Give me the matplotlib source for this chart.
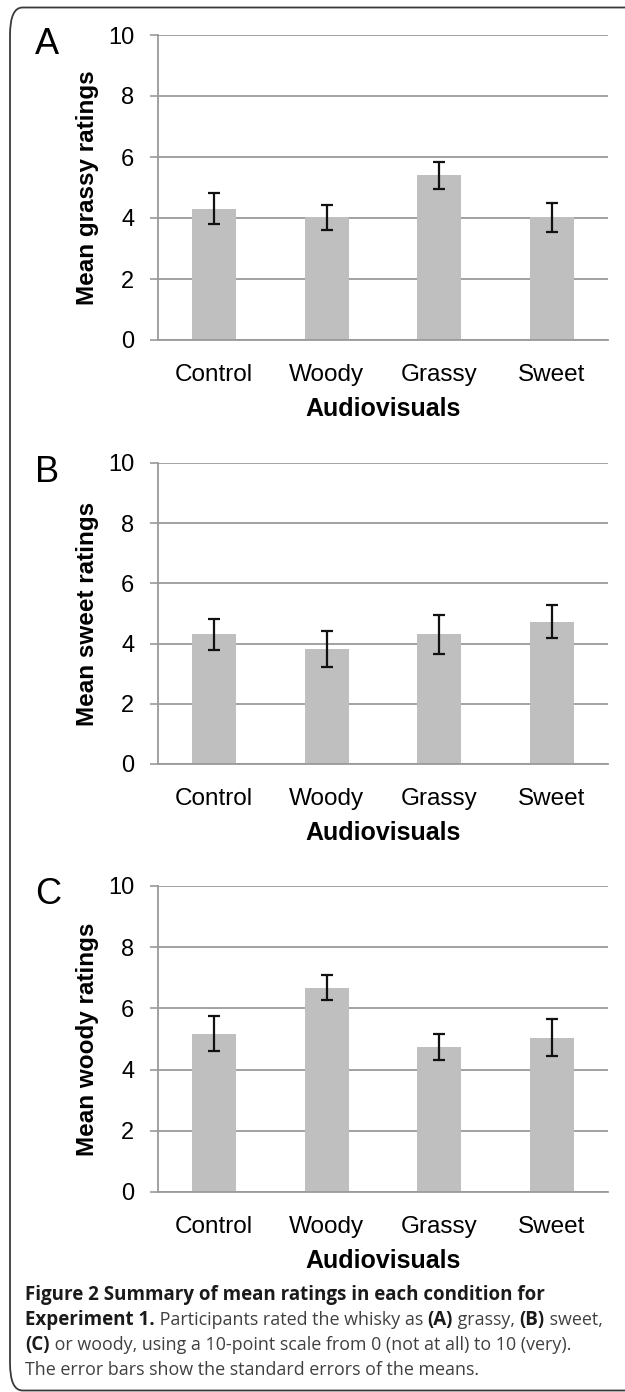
import matplotlib
matplotlib.use("Agg")
import matplotlib.pyplot as plt
from matplotlib.patches import FancyBboxPatch

# data
categories = ["Control", "Woody", "Grassy", "Sweet"]
grassy_means = [4.31, 4.02, 5.40, 4.02]
grassy_se = [0.50, 0.41, 0.45, 0.47]
sweet_means = [4.31, 3.82, 4.31, 4.72]
sweet_se = [0.51, 0.61, 0.64, 0.55]
woody_means = [5.17, 6.68, 4.74, 5.04]
woody_se = [0.57, 0.40, 0.43, 0.60]
panel_letters = ["A", "B", "C"]
ylabels = ["Mean grassy ratings", "Mean sweet ratings", "Mean woody ratings"]
yticks = [0, 2, 4, 6, 8, 10]

W, H = 625, 1392
fig = plt.figure(figsize=(W / 100, H / 100), dpi=100)

# frame round the whole figure (right side runs off the picture)
frame = FancyBboxPatch((10 / W, 1.5 / H), 640 / W, 1383 / H,
                       boxstyle="round,pad=0,rounding_size=0.02",
                       transform=fig.transFigure, fill=False,
                       edgecolor="#3a3a3a", linewidth=1.3)
fig.patches.append(frame)

font = "Liberation Sans"
grid_col = "#9a9a9a"
bar_col = "#bfbfbf"

# panel placement in pixels: (10 line, 0 line)
panels = [(35, 340), (463, 764), (886, 1192)]
series = [(grassy_means, grassy_se), (sweet_means, sweet_se), (woody_means, woody_se)]

for (top, bot), (means, se), letter, ylab in zip(panels, series, panel_letters, ylabels):
    ax = fig.add_axes([158 / W, 1 - bot / H, 450 / W, (bot - top) / H])
    x = range(len(categories))
    ax.bar(x, means, width=0.39, color=bar_col, zorder=2)
    ax.errorbar(x, means, yerr=se, fmt="none", ecolor="#111111",
                elinewidth=1.6, capsize=4.5, capthick=1.6, zorder=3)
    ax.set_xlim(-0.5, 3.5)
    ax.set_ylim(0, 10)
    ax.set_yticks(yticks)
    ax.set_xticks(list(x))
    ax.set_xticklabels(categories, family=font, fontsize=17.5)
    ax.tick_params(axis="x", length=0, pad=17)
    ax.tick_params(axis="y", length=6, width=1.2, color=grid_col, pad=11,
                   labelsize=17)
    for lab in ax.get_yticklabels():
        lab.set_family(font)
    ax.yaxis.grid(True, color=grid_col, linewidth=1.3, zorder=0)
    ax.set_axisbelow(True)
    for s in ["top", "right"]:
        ax.spines[s].set_visible(False)
    for s in ["left", "bottom"]:
        ax.spines[s].set_color(grid_col)
        ax.spines[s].set_linewidth(1.3)
    ax.set_ylabel(ylab, family=font, fontsize=17.5, fontweight="bold")
    ax.yaxis.set_label_coords((99 - 158) / 450, 0.5)
    ax.set_xlabel("Audiovisuals", family=font, fontsize=18, fontweight="bold",
                  labelpad=8)
    fig.text(35 / W, 1 - (top + 9) / H, letter, family=font, fontsize=26,
             va="center", ha="left")

# caption with mixed bold / regular runs
cap_font = "Open Sans"
dark = "#1a1a1a"
grey = "#404040"
caption = [
    [("Figure 2 Summary of mean ratings in each condition for", "bold", dark)],
    [("Experiment 1.", "bold", dark),
     (" Participants rated the whisky as ", "normal", grey),
     ("(A)", "bold", dark), (" grassy, ", "normal", grey),
     ("(B)", "bold", dark), (" sweet,", "normal", grey)],
    [("(C)", "bold", dark),
     (" or woody, using a 10-point scale from 0 (not at all) to 10 (very).",
      "normal", grey)],
    [("The error bars show the standard errors of the means.", "normal", grey)],
]
line_y = [1295, 1320, 1345, 1370]
size_for = {"bold": 13.5, "normal": 12.9}

renderer = fig.canvas.get_renderer()
for runs, y in zip(caption, line_y):
    xpos = 25
    for txt, weight, col in runs:
        t = fig.text(xpos / W, 1 - y / H, txt, family=cap_font,
                     fontsize=size_for[weight], fontweight=weight, color=col,
                     va="center", ha="left")
        bb = t.get_window_extent(renderer=renderer)
        xpos += bb.width

fig.savefig("out.png", dpi=100)
